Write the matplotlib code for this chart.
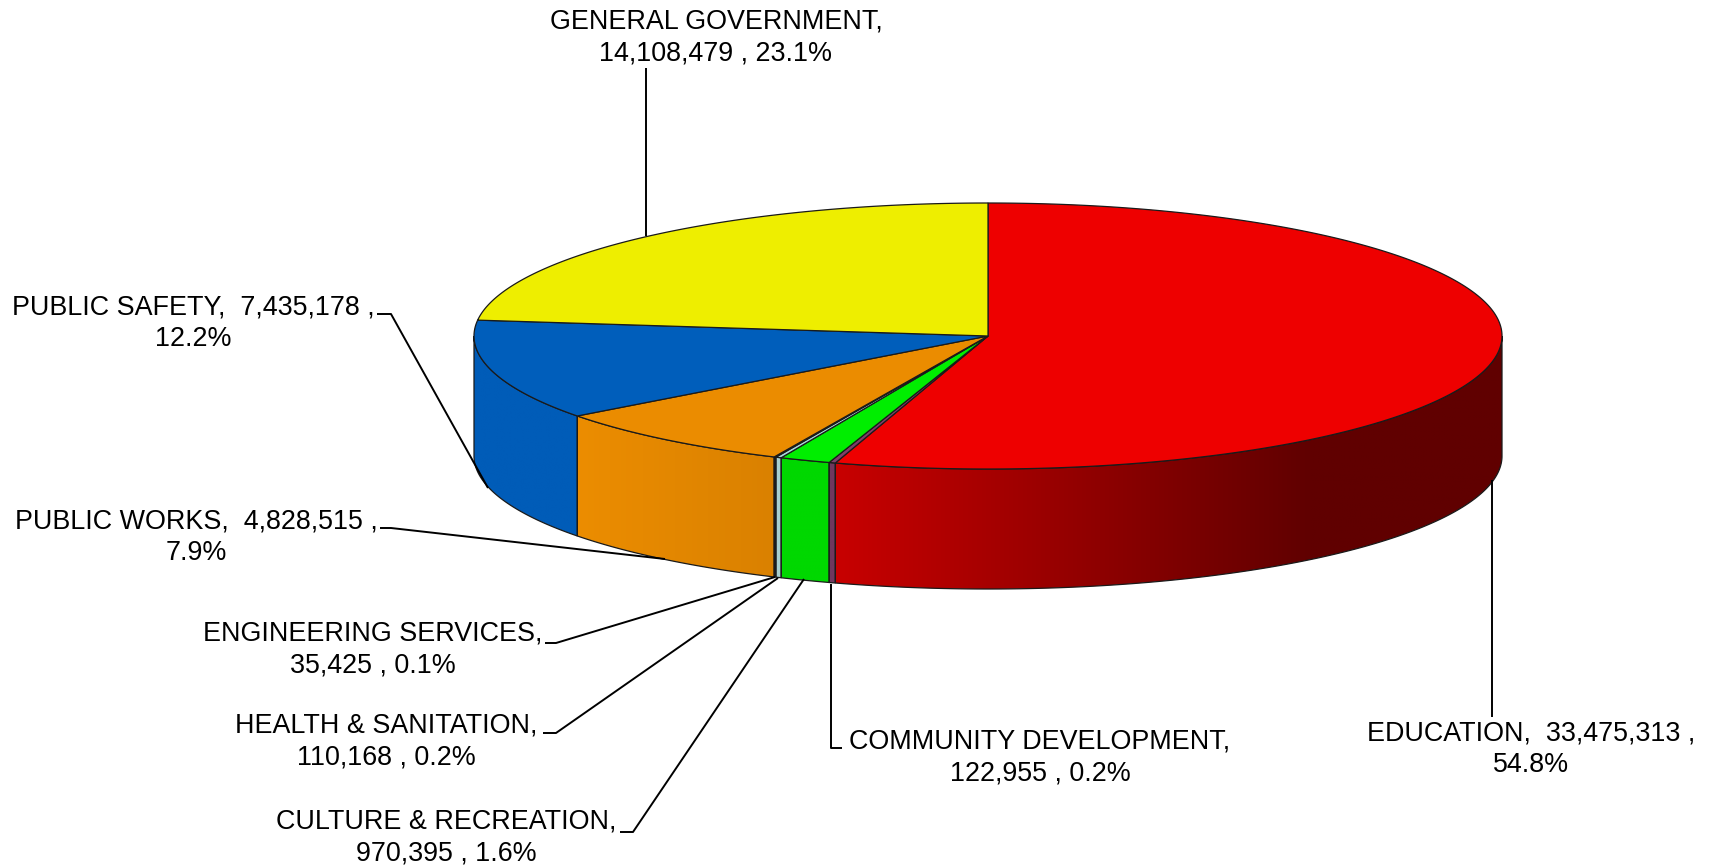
import numpy as np
import matplotlib
matplotlib.use('Agg')
import matplotlib.pyplot as plt
from matplotlib.patches import Polygon

plt.rcParams['font.family'] = ['Liberation Sans', 'DejaVu Sans']

# clockwise from 12 o'clock
names = ['EDUCATION', 'COMMUNITY DEVELOPMENT', 'CULTURE & RECREATION', 'HEALTH & SANITATION',
         'ENGINEERING SERVICES', 'PUBLIC WORKS', 'PUBLIC SAFETY', 'GENERAL GOVERNMENT']
values = [33475313, 122955, 970395, 110168, 35425, 4828515, 7435178, 14108479]
percents = ['54.8', '0.2', '1.6', '0.2', '0.1', '7.9', '12.2', '23.1']
# True: percent alone goes on line 2, False: value and percent go on line 2
pct_alone = [True, False, False, False, False, True, True, False]

top_colors = ['#EE0000', '#7F3F6A', '#00EE00', '#A8D8D8', '#111111', '#EB8C00', '#005EBB', '#EEEE00']
side_left = ['#C80000', '#70385E', '#00D800', '#A8D0D0', '#111111', '#EC8D00', '#005CB8', '#EEEE00']
side_right = ['#600000', '#70385E', '#00D800', '#A8D0D0', '#111111', '#DA8100', '#005CB8', '#EEEE00']
grad_end = [1310, None, None, None, None, None, None, None]

# label centre x, top y
label_x = [1531, 1040, 446, 386, 373, 196, 193, 716]
label_y = [720, 728, 809, 713, 620, 508, 294, 9]
# leader lines in pixels
leaders = [
    [(1492.5, 717), (1492.5, 480)],
    [(842, 748), (831, 748), (831, 584)],
    [(620, 832), (633, 832), (804, 579)],
    [(543, 733), (556, 733), (778, 578)],
    [(545, 643), (556, 643), (775, 577)],
    [(380, 528), (391, 528), (665, 559)],
    [(377, 314), (391, 314), (488, 488)],
    [(646, 68), (646, 236)],
]

cx, cy, rx, ry, depth = 988, 336, 514, 133, 120


def rim(t1, t2, dy=0.0):
    t = np.radians(np.linspace(t1, t2, max(3, int(abs(t2 - t1) * 4))))
    return np.column_stack([cx + rx * np.sin(t), cy - ry * np.cos(t) + dy])


def hex2rgb(c):
    return np.array(matplotlib.colors.to_rgb(c))


fig = plt.figure(figsize=(17.11, 8.67), dpi=100)
ax = fig.add_axes([0, 0, 1, 1])

angles = np.concatenate([[0], np.cumsum(values)]) / np.sum(values) * 360

# side wall, only the part facing the viewer
for i in range(len(values)):
    a1, a2 = max(angles[i], 90), min(angles[i + 1], 270)
    if a2 <= a1:
        continue
    pts = np.vstack([rim(a1, a2), rim(a2, a1, depth)])
    xl, xr = pts[:, 0].min(), pts[:, 0].max()
    xe = grad_end[i] if grad_end[i] else xr
    xs = np.linspace(xl, xr, 400)
    frac = np.clip((xs - xl) / max(xe - xl, 1), 0, 1)
    img = (1 - frac)[:, None] * hex2rgb(side_left[i]) + frac[:, None] * hex2rgb(side_right[i])
    im = ax.imshow(img[None, :, :], extent=(xl, xr, pts[:, 1].max(), pts[:, 1].min()),
                   aspect='auto', zorder=2, interpolation='bilinear')
    im.set_clip_path(Polygon(pts, transform=ax.transData))
    ax.add_patch(Polygon(pts, closed=True, fill=False, ec='#1a1a1a', lw=0.9, zorder=3))

# top face
for i in range(len(values)):
    pts = np.vstack([[cx, cy], rim(angles[i], angles[i + 1])])
    ax.add_patch(Polygon(pts, closed=True, fc=top_colors[i], ec='#1a1a1a', lw=0.9, zorder=4))

for line in leaders:
    xy = np.array(line)
    ax.plot(xy[:, 0], xy[:, 1], color='black', lw=1.4, zorder=5, solid_capstyle='butt')

for i in range(len(values)):
    val = f'{values[i]:,}'
    if pct_alone[i]:
        s = f'{names[i]},  {val} ,\n{percents[i]}%'
    else:
        s = f'{names[i]},\n{val} , {percents[i]}%'
    ax.text(label_x[i], label_y[i], s, ha='center', va='top', fontsize=19.4,
            linespacing=1.3, color='black', zorder=6)

ax.set_xlim(0, 1711)
ax.set_ylim(867, 0)
ax.axis('off')
fig.savefig('out.png', dpi=100, facecolor='white')
